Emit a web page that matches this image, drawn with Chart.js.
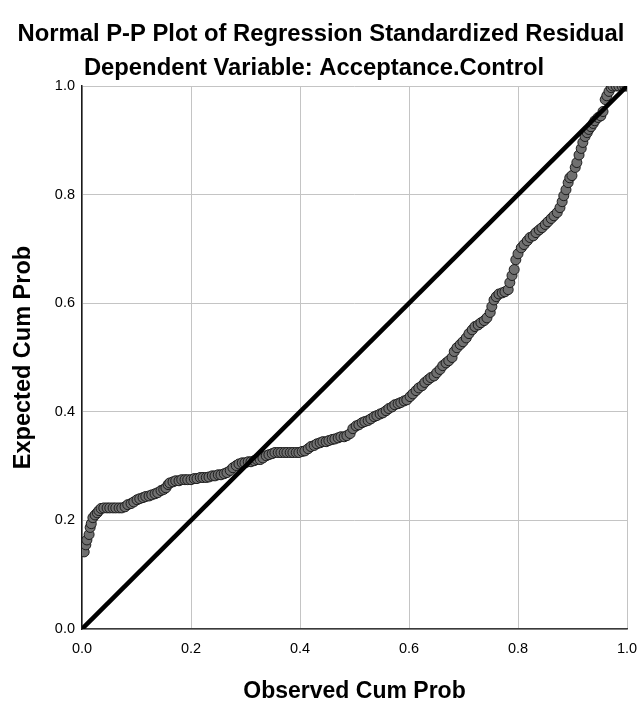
<!DOCTYPE html>
<html>
<head>
<meta charset="utf-8">
<title>Normal P-P Plot of Regression Standardized Residual</title>
<script src="https://cdn.jsdelivr.net/npm/chart.js@4.4.1/dist/chart.umd.min.js"></script>
<style>
  html, body { margin: 0; padding: 0; background: #ffffff; }
  #wrap { width: 641px; height: 707px; position: relative; }
</style>
</head>
<body>
<div id="wrap"><canvas id="pp"></canvas></div>
<script>
// Observed cumulative probability of each case (x)
const observedCumProb = [
  0.004,0.007,0.009,0.013,0.015,0.017,0.020,0.024,0.028,0.031,
  0.035,0.040,0.046,0.051,0.057,0.062,0.068,0.073,0.079,0.084,
  0.090,0.095,0.101,0.106,0.112,0.117,0.123,0.128,0.134,0.139,
  0.145,0.150,0.154,0.158,0.161,0.167,0.172,0.178,0.183,0.189,
  0.194,0.200,0.206,0.211,0.217,0.222,0.228,0.233,0.239,0.244,
  0.250,0.255,0.261,0.266,0.272,0.277,0.283,0.288,0.294,0.299,
  0.305,0.310,0.316,0.321,0.327,0.332,0.338,0.343,0.349,0.354,
  0.360,0.365,0.371,0.376,0.382,0.387,0.393,0.398,0.404,0.409,
  0.415,0.420,0.426,0.431,0.437,0.442,0.448,0.453,0.459,0.464,
  0.470,0.475,0.481,0.486,0.492,0.497,0.503,0.508,0.514,0.519,
  0.525,0.530,0.536,0.541,0.547,0.552,0.558,0.563,0.569,0.574,
  0.580,0.585,0.591,0.596,0.602,0.607,0.613,0.618,0.624,0.629,
  0.635,0.640,0.646,0.651,0.657,0.662,0.668,0.673,0.679,0.683,
  0.688,0.694,0.699,0.705,0.710,0.716,0.721,0.727,0.732,0.738,
  0.743,0.749,0.752,0.756,0.760,0.765,0.771,0.776,0.782,0.785,
  0.789,0.793,0.796,0.800,0.806,0.811,0.817,0.822,0.828,0.833,
  0.839,0.844,0.850,0.855,0.861,0.866,0.872,0.877,0.881,0.884,
  0.888,0.892,0.895,0.899,0.905,0.908,0.912,0.916,0.919,0.923,
  0.927,0.930,0.934,0.938,0.941,0.947,0.952,0.956,0.960,0.963,
  0.967,0.971,0.974,0.980,0.985,0.991,0.996,1.000
];

// Expected cumulative probability under normality (y)
const expectedCumProb = [
  0.142,0.155,0.164,0.174,0.187,0.194,0.205,0.210,0.214,0.218,
  0.222,0.223,0.223,0.223,0.223,0.223,0.223,0.223,0.225,0.229,
  0.231,0.234,0.238,0.240,0.242,0.244,0.245,0.247,0.249,0.251,
  0.255,0.257,0.260,0.266,0.269,0.271,0.273,0.273,0.275,0.275,
  0.275,0.275,0.277,0.277,0.279,0.279,0.279,0.280,0.282,0.282,
  0.284,0.284,0.286,0.288,0.292,0.297,0.301,0.304,0.306,0.306,
  0.308,0.308,0.310,0.312,0.312,0.315,0.319,0.321,0.323,0.325,
  0.325,0.325,0.325,0.325,0.325,0.325,0.325,0.325,0.327,0.328,
  0.332,0.336,0.338,0.341,0.343,0.345,0.345,0.347,0.349,0.350,
  0.352,0.354,0.354,0.356,0.360,0.369,0.374,0.376,0.380,0.382,
  0.384,0.387,0.391,0.393,0.396,0.398,0.402,0.406,0.409,0.413,
  0.415,0.417,0.420,0.422,0.428,0.433,0.439,0.444,0.448,0.454,
  0.459,0.463,0.466,0.472,0.478,0.485,0.490,0.494,0.500,0.511,
  0.518,0.524,0.529,0.536,0.544,0.551,0.557,0.560,0.564,0.568,
  0.573,0.583,0.594,0.606,0.612,0.617,0.619,0.621,0.625,0.638,
  0.651,0.662,0.680,0.691,0.702,0.708,0.715,0.721,0.724,0.730,
  0.735,0.739,0.745,0.750,0.756,0.761,0.767,0.776,0.787,0.798,
  0.809,0.822,0.831,0.835,0.850,0.859,0.873,0.885,0.896,0.907,
  0.914,0.920,0.925,0.931,0.936,0.942,0.945,0.953,0.975,0.982,
  0.990,0.997,1.000,1.000,1.000,1.000,1.000,1.000
];

// Diagonal reference line: expected == observed
const diagonalEnds = [0, 1];

// Axis tick values (both axes)
const tickValues = [0.0, 0.2, 0.4, 0.6, 0.8, 1.0];

const chartTitle = 'Normal P-P Plot of Regression Standardized Residual';
const chartSubtitle = 'Dependent Variable: Acceptance.Control';
const xAxisTitle = 'Observed Cum Prob';
const yAxisTitle = 'Expected Cum Prob';

const FONT = '"Liberation Sans", Arial, Helvetica, sans-serif';
const HEADING_SIZE = 23.8;

const residualPoints = observedCumProb.map((x, i) => ({ x: x, y: expectedCumProb[i] }));
const diagonalPoints = diagonalEnds.map(v => ({ x: v, y: v }));

// Headings drawn above the plot area
const headingPlugin = {
  id: 'headings',
  afterDraw(chart) {
    const ctx = chart.ctx;
    ctx.save();
    ctx.fillStyle = '#000000';
    ctx.textAlign = 'center';
    ctx.textBaseline = 'middle';
    ctx.font = 'bold ' + HEADING_SIZE + 'px ' + FONT;
    ctx.fillText(chartTitle, 321, 34);
    ctx.fillText(chartSubtitle, 314, 68);
    ctx.restore();
  }
};

const useTickValues = scale => {
  scale.ticks = tickValues.map(v => ({ value: v }));
};

new Chart(document.getElementById('pp'), {
  type: 'scatter',
  data: {
    datasets: [
      {
        type: 'line',
        data: diagonalPoints,
        borderColor: '#000000',
        borderWidth: 4.5,
        pointRadius: 0,
        fill: false,
        order: 0,
        clip: 0
      },
      {
        type: 'scatter',
        data: residualPoints,
        pointRadius: 5,
        pointBackgroundColor: '#707070',
        pointBorderColor: '#1c1c1c',
        pointBorderWidth: 1,
        order: 1,
        clip: 0
      }
    ]
  },
  options: {
    responsive: true,
    maintainAspectRatio: false,
    animation: false,
    events: [],
    layout: { padding: { top: 86, right: 14, left: 0, bottom: 0 } },
    plugins: {
      legend: { display: false },
      tooltip: { enabled: false },
      title: { display: false }
    },
    scales: {
      x: {
        type: 'linear',
        min: 0,
        max: 1,
        afterBuildTicks: useTickValues,
        afterFit(scale) {
          scale.height = 78;
          scale.paddingLeft = 0;
          scale.paddingRight = 0;
        },
        grid: { color: '#c4c4c4', lineWidth: 1, drawTicks: false },
        border: { display: true, color: '#3a3a3a', width: 1.5 },
        ticks: {
          padding: 11,
          color: '#000000',
          font: { family: FONT, size: 14.5 },
          callback: v => Number(v).toFixed(1)
        },
        title: {
          display: true,
          text: xAxisTitle,
          color: '#000000',
          font: { family: FONT, size: 23, weight: 'bold' },
          padding: { top: 0, bottom: 2 }
        }
      },
      y: {
        type: 'linear',
        min: 0,
        max: 1,
        afterBuildTicks: useTickValues,
        afterFit(scale) {
          scale.width = 82;
          scale.paddingTop = 0;
          scale.paddingBottom = 0;
        },
        grid: { color: '#c4c4c4', lineWidth: 1, drawTicks: false },
        border: { display: true, color: '#1a1a1a', width: 1.5 },
        ticks: {
          padding: 7,
          color: '#000000',
          font: { family: FONT, size: 14.5 },
          callback: v => Number(v).toFixed(1)
        },
        title: {
          display: true,
          text: yAxisTitle,
          color: '#000000',
          font: { family: FONT, size: 23.5, weight: 'bold' },
          padding: { top: 9, bottom: 0 }
        }
      }
    }
  },
  plugins: [headingPlugin]
});
</script>
</body>
</html>
